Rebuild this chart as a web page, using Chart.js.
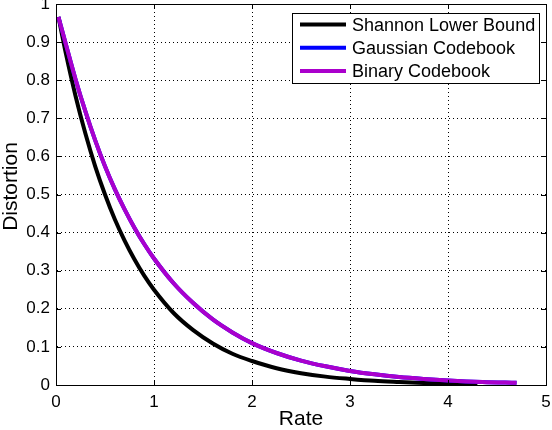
<!DOCTYPE html>
<html>
<head>
<meta charset="utf-8">
<script src="https://cdn.jsdelivr.net/npm/chart.js@4.4.0/dist/chart.umd.min.js"></script>
<style>
  html, body { margin: 0; padding: 0; background: #fff; }
  #wrap { width: 552px; height: 430px; }
</style>
</head>
<body>
<div id="wrap"><canvas id="rdChart" width="552" height="430"></canvas></div>
<script>
// Values
const xTicks = [0, 1, 2, 3, 4, 5];
const yTicks = [0, 0.1, 0.2, 0.3, 0.4, 0.5, 0.6, 0.7, 0.8, 0.9, 1];

const shannonRate = [0.025, 0.1, 0.2, 0.3, 0.4, 0.5, 0.6, 0.7, 0.8, 0.9, 1.0, 1.2, 1.4, 1.6, 1.8, 2.0, 2.25, 2.5, 2.75, 3.0, 3.25, 3.5, 3.75, 4.0, 4.3];
const shannonDist = [0.966, 0.871, 0.758, 0.66, 0.574, 0.5, 0.435, 0.379, 0.33, 0.287, 0.25, 0.189, 0.144, 0.109, 0.082, 0.063, 0.044, 0.031, 0.022, 0.016, 0.011, 0.008, 0.0055, 0.004, 0.003];

const codebookRate = [0.025, 0.1, 0.2, 0.3, 0.4, 0.5, 0.6, 0.7, 0.8, 0.9, 1.0, 1.2, 1.4, 1.6, 1.8, 2.0, 2.25, 2.5, 2.75, 3.0, 3.25, 3.5, 3.75, 4.0, 4.35, 4.7];
const gaussianDist = [0.966, 0.895, 0.802, 0.718, 0.642, 0.574, 0.514, 0.461, 0.413, 0.37, 0.332, 0.267, 0.215, 0.172, 0.138, 0.11, 0.084, 0.064, 0.049, 0.037, 0.028, 0.021, 0.016, 0.012, 0.008, 0.006];
const binaryDist = [0.966, 0.895, 0.802, 0.718, 0.642, 0.574, 0.514, 0.461, 0.413, 0.37, 0.332, 0.267, 0.215, 0.172, 0.138, 0.11, 0.084, 0.064, 0.049, 0.037, 0.028, 0.021, 0.016, 0.012, 0.008, 0.006];

const seriesLabels = ["Shannon Lower Bound", "Gaussian Codebook", "Binary Codebook"];
const seriesColors = ["#000000", "#0000ff", "#aa00cc"];
const yTitle = "Distortion";

const FONT = "'Liberation Sans', Arial, Helvetica, sans-serif";

function toPoints(xs, ys) {
  return xs.map((x, i) => ({ x: x, y: ys[i] }));
}

// Axes box + inward tick marks on all four sides, y label
const frameTicks = {
  id: "frameTicks",
  afterDatasetsDraw(chart) {
    const { ctx, chartArea: a, scales } = chart;
    ctx.save();
    ctx.strokeStyle = "#000";
    ctx.lineWidth = 1;
    ctx.setLineDash([]);
    ctx.beginPath();
    xTicks.forEach(v => {
      const px = Math.round(scales.x.getPixelForValue(v)) + 0.5;
      ctx.moveTo(px, a.bottom);
      ctx.lineTo(px, a.bottom - 5);
      ctx.moveTo(px, a.top);
      ctx.lineTo(px, a.top + 5);
    });
    yTicks.forEach(v => {
      const py = Math.round(scales.y.getPixelForValue(v)) + 0.5;
      ctx.moveTo(a.left, py);
      ctx.lineTo(a.left + 5, py);
      ctx.moveTo(a.right, py);
      ctx.lineTo(a.right - 5, py);
    });
    ctx.stroke();
    ctx.strokeRect(Math.round(a.left) + 0.5, Math.round(a.top) + 0.5,
      Math.round(a.right - a.left), Math.round(a.bottom - a.top));

    // y axis label sits a little above the middle of the axis, as in matlab
    ctx.translate(11, (a.top + a.bottom) / 2 - 8);
    ctx.rotate(-Math.PI / 2);
    ctx.font = "21px " + FONT;
    ctx.fillStyle = "#000";
    ctx.textAlign = "center";
    ctx.textBaseline = "middle";
    ctx.fillText(yTitle, 0, 0);
    ctx.restore();
  }
};

// Boxed legend in the upper right corner
const boxLegend = {
  id: "boxLegend",
  afterDraw(chart) {
    const { ctx, chartArea: a } = chart;
    const sets = chart.data.datasets;
    ctx.save();
    ctx.font = "18px " + FONT;
    let maxW = 0;
    sets.forEach(ds => { maxW = Math.max(maxW, ctx.measureText(ds.label).width); });
    const w = Math.round(60 + maxW + 4);
    const h = 70;
    const right = a.right - 7;
    const left = Math.round(right - w);
    const top = Math.round(a.top + 9);
    ctx.fillStyle = "#fff";
    ctx.fillRect(left, top, w, h);
    ctx.strokeStyle = "#000";
    ctx.lineWidth = 1;
    ctx.strokeRect(left + 0.5, top + 0.5, w, h);
    sets.forEach((ds, i) => {
      const y = top + 11.6 + i * 23.2;
      ctx.strokeStyle = ds.borderColor;
      ctx.lineWidth = 4;
      ctx.beginPath();
      ctx.moveTo(left + 8, y);
      ctx.lineTo(left + 54, y);
      ctx.stroke();
      ctx.fillStyle = "#000";
      ctx.textBaseline = "middle";
      ctx.textAlign = "left";
      ctx.fillText(ds.label, left + 60, y + 1);
    });
    ctx.restore();
  }
};

const ctxRd = document.getElementById("rdChart").getContext("2d");
new Chart(ctxRd, {
  type: "line",
  data: {
    datasets: [
      { label: seriesLabels[0], data: toPoints(shannonRate, shannonDist), borderColor: seriesColors[0], order: 2 },
      { label: seriesLabels[1], data: toPoints(codebookRate, gaussianDist), borderColor: seriesColors[1], order: 1 },
      { label: seriesLabels[2], data: toPoints(codebookRate, binaryDist), borderColor: seriesColors[2], order: 0 },
    ],
  },
  options: {
    responsive: false,
    animation: false,
    devicePixelRatio: 1,
    layout: { padding: { top: 4, right: 6, bottom: 0, left: 0 } },
    elements: {
      point: { radius: 0, hoverRadius: 0 },
      line: { borderWidth: 4, fill: false, cubicInterpolationMode: "monotone", borderCapStyle: "butt" },
    },
    plugins: {
      legend: { display: false },
      tooltip: { enabled: false },
    },
    scales: {
      x: {
        type: "linear",
        min: 0,
        max: 5,
        afterBuildTicks: (scale) => { scale.ticks = xTicks.map(v => ({ value: v })); },
        afterFit: (scale) => {
          scale.height = 45;
          scale.paddingLeft = 0;
          scale.paddingRight = 0;
        },
        ticks: {
          color: "#000",
          padding: 7,
          maxRotation: 0,
          autoSkip: false,
          font: { family: FONT, size: 17 },
          callback: (v) => String(v),
        },
        grid: { color: "#000", lineWidth: 1, drawTicks: false },
        border: { display: true, color: "#000", width: 1, dash: [1, 3] },
        title: {
          display: true,
          text: "Rate",
          color: "#000",
          padding: 0,
          font: { family: FONT, size: 21, lineHeight: 1 },
        },
      },
      y: {
        type: "linear",
        min: 0,
        max: 1,
        afterBuildTicks: (scale) => { scale.ticks = yTicks.map(v => ({ value: v })); },
        afterFit: (scale) => {
          scale.width = 56;
          scale.paddingTop = 0;
          scale.paddingBottom = 0;
        },
        ticks: {
          color: "#000",
          padding: 6,
          autoSkip: false,
          font: { family: FONT, size: 17 },
          callback: (v) => String(v),
        },
        grid: { color: "#000", lineWidth: 1, drawTicks: false },
        border: { display: true, color: "#000", width: 1, dash: [1, 3] },
      },
    },
  },
  plugins: [frameTicks, boxLegend],
});
</script>
</body>
</html>
